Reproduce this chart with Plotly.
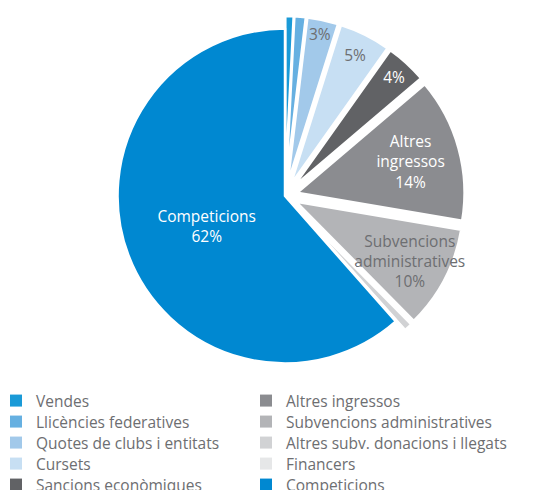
import plotly.graph_objects as go

categories = ["Vendes", "Llicències federatives", "Quotes de clubs i entitats", "Cursets",
              "Sancions econòmiques", "Altres ingressos", "Subvencions administratives",
              "Altres subv. donacions i llegats", "Financers", "Competicions"]
values = [0.8, 1.1, 3.0, 5.0, 4.0, 14.0, 10.0, 0.8, 0.1, 62.0]
slice_text = ["", "", "3%", "5%", "4%", "Altres<br>ingressos<br>14%",
              "Subvencions<br>administratives<br>10%", "", "", "Competicions<br>62%"]
colors = ["#1a9ad7", "#66b0e1", "#a2c9ea", "#c7dff3", "#616265", "#8b8c90",
          "#b3b4b7", "#d1d2d4", "#e6e7e8", "#0088d1"]
text_colors = ["#6d6e71", "#6d6e71", "#6d6e71", "#6d6e71", "#ffffff", "#ffffff",
               "#6d6e71", "#6d6e71", "#6d6e71", "#ffffff"]
pulls = [0.075] * 9 + [0.0]

FONT = "Open Sans"
W, H = 541, 490
cx, cy, R = 277, 188, 180

fig = go.Figure()
fig.add_trace(go.Pie(
    labels=categories, values=values, text=slice_text, textinfo="text",
    sort=False, direction="clockwise", rotation=0, pull=pulls,
    marker=dict(colors=colors, line=dict(color="white", width=2.5)),
    textposition="inside", insidetextorientation="horizontal",
    insidetextfont=dict(color=text_colors, family=FONT, size=15.5),
    showlegend=False, hoverinfo="label+percent",
    domain=dict(x=[(cx - R) / W, (cx + R) / W], y=[1 - (cy + R) / H, 1 - (cy - R) / H]),
))

# one legend per entry: two columns of five rows
legend_ids = ["legend"] + ["legend%d" % k for k in range(2, 11)]
legend_layout = {}
for i, (name, col) in enumerate(zip(categories, colors)):
    fig.add_trace(go.Scatter(
        x=[None], y=[None], mode="markers", name=name,
        marker=dict(symbol="square", size=12, color=col),
        legend=legend_ids[i], hoverinfo="skip",
    ))
    row, colno = i % 5, i // 5
    legend_layout[legend_ids[i]] = dict(
        x=(-12 + 250 * colno) / W, y=1 - (393 + 21 * row) / H,
        xanchor="left", yanchor="middle", orientation="v", itemclick=False,
        font=dict(family=FONT, size=15.5, color="#6d6e71"), bgcolor="rgba(0,0,0,0)",
    )

fig.update_layout(
    width=W, height=H, margin=dict(l=0, r=0, t=0, b=0, autoexpand=False),
    paper_bgcolor="white", plot_bgcolor="white",
    xaxis=dict(visible=False), yaxis=dict(visible=False),
    uniformtext=dict(minsize=15.5, mode="show"),
    font=dict(family=FONT),
    **legend_layout,
)
fig.write_html("out.html")
